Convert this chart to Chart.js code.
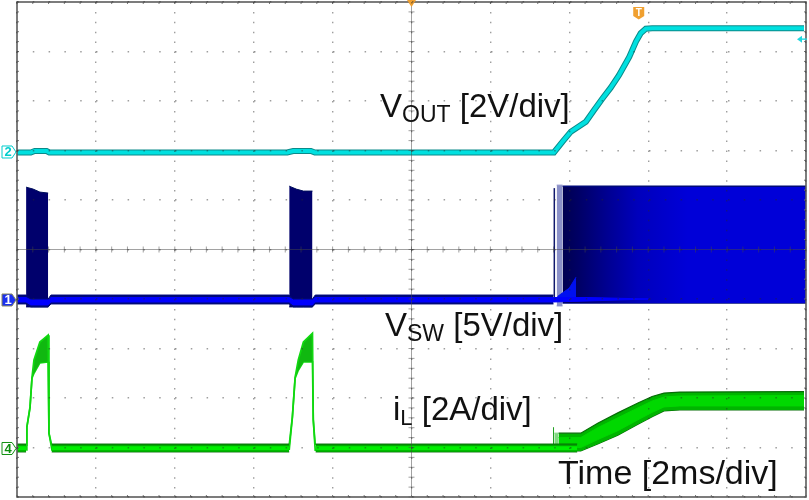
<!DOCTYPE html>
<html>
<head>
<meta charset="utf-8">
<style>
  html, body { margin: 0; padding: 0; background: #fff; }
  #wrap { width: 809px; height: 500px; }
  canvas { filter: blur(0.4px); }
</style>
<script src="https://cdn.jsdelivr.net/npm/chart.js@4"></script>
</head>
<body>
<div id="wrap"><canvas id="scope" width="809" height="500"></canvas></div>
<script>
// x in ms (2 ms/div, 10 div), y in screen divisions from the bottom
const voutT = [0, 0.35, 0.45, 0.75, 0.82, 6.85, 7.0, 7.45, 7.55, 13.61, 13.83, 14.04, 14.42, 14.63, 14.84, 15.05, 15.26, 15.52, 15.69, 15.81, 15.94, 16.1, 19.95];
const voutV = [6.96, 6.96, 6.99, 6.99, 6.96, 6.96, 6.99, 6.99, 6.96, 6.96, 7.18, 7.38, 7.58, 7.82, 8.05, 8.27, 8.52, 8.89, 9.2, 9.37, 9.46, 9.47, 9.47];

const swBaseT = [0, 0.23, 0.35, 0.79, 0.86, 6.9, 7.0, 7.49, 7.56, 13.6];
const swBaseHi = [4.08, 4.08, 4.0, 4.0, 4.08, 4.08, 4.0, 4.0, 4.08, 4.08];
const swBaseLo = [3.9, 3.9, 3.84, 3.84, 3.9, 3.9, 3.84, 3.84, 3.9, 3.9];
const swCoreT = [0, 0.23, 0.35, 0.79, 0.86, 6.9, 7.0, 7.49, 7.56, 13.6, 14.5, 16.0];
const swCoreHi = [4.03, 4.03, 3.98, 3.98, 4.03, 4.03, 3.98, 3.98, 4.03, 4.03, 4.03, 4.0];
const swCoreLo = [3.94, 3.94, 3.88, 3.88, 3.94, 3.94, 3.88, 3.88, 3.94, 3.94, 3.96, 4.0];

const burst1T = [0.23, 0.41, 0.58, 0.79];
const burst1Hi = [6.26, 6.22, 6.16, 6.14];
const burst1Lo = [3.84, 3.84, 3.84, 3.84];
const burst2T = [6.9, 7.08, 7.26, 7.49];
const burst2Hi = [6.28, 6.22, 6.18, 6.18];
const burst2Lo = [3.84, 3.84, 3.84, 3.84];

const swSpikeT = [13.62, 13.62];
const swSpikeV = [3.95, 6.24];
const swLightT = [13.68, 13.83];
const swLightHi = [6.3, 6.3];
const swLightLo = [3.86, 3.86];
const swMainT = [13.83, 20];
const swMainHi = [6.28, 6.28];
const swMainLo = [3.92, 3.92];
const wedgeT = [13.7, 14.0, 14.17];
const wedgeHi = [4.05, 4.22, 4.44];
const wedgeLo = [4.0, 4.0, 4.0];

const ilBaseT = [0, 0.23, 0.5, 0.88, 6.9, 7.2, 7.57, 14.2];
const ilBaseHi = [1.07, 1.07, null, 1.07, 1.07, null, 1.07, 1.07];
const ilBaseLo = [0.91, 0.91, null, 0.91, 0.91, null, 0.91, 0.91];
const ilCoreHi = [1.02, 1.02, null, 1.02, 1.02, null, 1.02, 1.02];
const ilCoreLo = [0.95, 0.95, null, 0.95, 0.95, null, 0.95, 0.95];

const pulse1T = [0.23, 0.25, 0.33, 0.38, 0.43, 0.58, 0.79, 0.81, 0.89];
const pulse1Hi = [1.05, 1.41, 1.82, 2.42, 2.77, 3.13, 3.27, 1.29, 1.01];
const pulse1Lo = [0.95, 1.41, 1.8, 2.4, 2.5, 2.71, 2.73, 1.29, 0.93];
const pulse2T = [6.9, 6.98, 7.05, 7.13, 7.26, 7.49, 7.51, 7.56];
const pulse2Hi = [1.05, 1.62, 2.42, 2.77, 3.13, 3.31, 1.56, 1.05];
const pulse2Lo = [0.95, 1.6, 2.4, 2.56, 2.73, 2.73, 1.56, 0.93];

const ilSpikeT = [13.6, 13.6];
const ilSpikeV = [0.95, 1.41];
const ilLightT = [13.62, 13.73];
const ilLightHi = [1.29, 1.29];
const ilLightLo = [0.98, 0.98];
const rampT = [13.73, 14.29, 14.72, 15.23, 15.74, 16.1, 16.4, 16.8, 19.95];
const rampHi = [1.29, 1.29, 1.49, 1.7, 1.9, 2.03, 2.1, 2.12, 2.13];
const rampLo = [0.93, 0.93, 1.07, 1.25, 1.47, 1.62, 1.74, 1.76, 1.76];
const rampCoreHi = [1.2, 1.2, 1.4, 1.6, 1.8, 1.94, 2.02, 2.04, 2.05];
const rampCoreLo = [1.0, 1.0, 1.16, 1.34, 1.56, 1.71, 1.82, 1.84, 1.84];

const xMajorStep = 2;
const yMajorStep = 1;

const pts = (xs, ys) => xs.map((x, i) => ({ x, y: ys[i] }));

function line(t, v, color, width) {
  return { data: pts(t, v), borderColor: color, borderWidth: width, fill: false, pointRadius: 0, showLine: true, spanGaps: false, tension: 0 };
}

// upper + lower pair filled between them
function band(t, hi, lo, color, edge, width) {
  return [
    { data: pts(t, hi), borderColor: edge, borderWidth: width, backgroundColor: color, fill: "+1", pointRadius: 0, showLine: true, spanGaps: false, tension: 0 },
    { data: pts(t, lo), borderColor: edge, borderWidth: width, fill: false, pointRadius: 0, showLine: true, spanGaps: false, tension: 0 },
  ];
}

function mainGradient(c) {
  const chart = c.chart;
  if (!chart.chartArea) return "#0000d0";
  const xs = chart.scales.x;
  const g = chart.ctx.createLinearGradient(xs.getPixelForValue(13.83), 0, xs.getPixelForValue(17), 0);
  g.addColorStop(0, "#000050");
  g.addColorStop(0.12, "#000064");
  g.addColorStop(0.35, "#000090");
  g.addColorStop(0.6, "#0000bc");
  g.addColorStop(1, "#0000d8");
  return g;
}

// first dataset ends up on top, chart.js draws them in reverse
const datasets = [
  line(voutT, voutV, "#00e0e0", 4),
  line(voutT, voutV, "#0a8a8a", 6),
  ...band(swCoreT, swCoreHi, swCoreLo, "#0000ff", "#0000ff", 1),
  ...band(wedgeT, wedgeHi, wedgeLo, "#0010f0", "#0010f0", 1),
  ...band(swBaseT, swBaseHi, swBaseLo, "#000a78", "#000a78", 1),
  ...band(burst1T, burst1Hi, burst1Lo, "#00006c", "#00105c", 1),
  ...band(burst2T, burst2Hi, burst2Lo, "#00006c", "#00105c", 1),
  line(swSpikeT, swSpikeV, "#10186c", 1.5),
  ...band(swMainT, swMainHi, swMainLo, mainGradient, "#000a78", 1.5),
  ...band(swLightT, swLightHi, swLightLo, "#8a90c8", "#8a90c8", 1),
  ...band(ilBaseT, ilCoreHi, ilCoreLo, "#00f000", "#00f000", 0.6),
  ...band(ilBaseT, ilBaseHi, ilBaseLo, "#00a800", "#0a6a0a", 1),
  ...band(pulse1T, pulse1Hi, pulse1Lo, "#10b810", "#10d810", 1.7),
  ...band(pulse2T, pulse2Hi, pulse2Lo, "#10b810", "#10d810", 1.7),
  ...band(rampT, rampCoreHi, rampCoreLo, "#00d800", "#00d800", 1),
  ...band(rampT, rampHi, rampLo, "#00b400", "#066c06", 1.2),
  line(ilSpikeT, ilSpikeV, "#20a020", 1),
  ...band(ilLightT, ilLightHi, ilLightLo, "#80d880", "#80d880", 1),
];

function marker(ctx, x, y, num, stroke, fill, textColor) {
  ctx.beginPath();
  ctx.moveTo(x - 14, y - 6);
  ctx.lineTo(x - 4, y - 6);
  ctx.lineTo(x, y);
  ctx.lineTo(x - 4, y + 6);
  ctx.lineTo(x - 14, y + 6);
  ctx.closePath();
  ctx.fillStyle = fill;
  ctx.fill();
  ctx.lineWidth = 1;
  ctx.strokeStyle = stroke;
  ctx.stroke();
  ctx.fillStyle = textColor;
  ctx.font = "bold 13px 'Liberation Sans'";
  ctx.textAlign = "center";
  ctx.textBaseline = "middle";
  ctx.fillText(num, x - 8, y + 0.5);
}

function label(ctx, x, y, main, sub, rest, size, subSize) {
  ctx.fillStyle = "#111";
  ctx.textAlign = "left";
  ctx.textBaseline = "alphabetic";
  ctx.font = size + "px 'Liberation Sans'";
  ctx.fillText(main, x, y);
  let cx = x + ctx.measureText(main).width;
  if (sub) {
    ctx.font = subSize + "px 'Liberation Sans'";
    ctx.fillText(sub, cx, y + 5);
    cx += ctx.measureText(sub).width;
  }
  ctx.font = size + "px 'Liberation Sans'";
  ctx.fillText(rest, cx, y);
}

const scopeOverlay = {
  id: "scopeOverlay",
  afterDatasetsDraw(chart) {
    const { ctx, chartArea: a, scales } = chart;
    const midX = scales.x.getPixelForValue(10);
    const midY = scales.y.getPixelForValue(5);
    ctx.save();

    // centre cross with minor ticks
    ctx.strokeStyle = "rgba(70,70,70,0.5)";
    ctx.lineWidth = 1;
    ctx.beginPath();
    ctx.moveTo(a.left, midY);
    ctx.lineTo(a.right, midY);
    for (let i = 0; i <= 50; i++) {
      const px = scales.x.getPixelForValue(i * 0.4);
      ctx.moveTo(px, midY - 3);
      ctx.lineTo(px, midY + 3);
      const py = scales.y.getPixelForValue(i * 0.2);
      ctx.moveTo(midX - 3, py);
      ctx.lineTo(midX + 3, py);
    }
    ctx.moveTo(midX, a.top);
    ctx.lineTo(midX, a.bottom);
    ctx.stroke();

    // frame ticks
    ctx.strokeStyle = "#777";
    ctx.beginPath();
    for (let i = 0; i <= 50; i++) {
      const px = scales.x.getPixelForValue(i * 0.4);
      ctx.moveTo(px, a.top);
      ctx.lineTo(px, a.top + 2);
      ctx.moveTo(px, a.bottom);
      ctx.lineTo(px, a.bottom - 2);
      const py = scales.y.getPixelForValue(i * 0.2);
      ctx.moveTo(a.left, py);
      ctx.lineTo(a.left + 2, py);
      ctx.moveTo(a.right, py);
      ctx.lineTo(a.right - 2, py);
    }
    ctx.stroke();

    // frame
    ctx.strokeStyle = "#5c5c5c";
    ctx.lineWidth = 1.6;
    ctx.strokeRect(a.left, a.top, a.right - a.left, a.bottom - a.top);

    // channel markers
    marker(ctx, a.left - 1, scales.y.getPixelForValue(6.97), "2", "#00cccc", "#ffffff", "#00cccc");
    marker(ctx, a.left - 1, scales.y.getPixelForValue(3.98), "1", "#8a8a60", "#1a30f0", "#ffffff");
    marker(ctx, a.left - 1, scales.y.getPixelForValue(0.98), "4", "#109010", "#ffffff", "#109010");

    // centre time marker
    ctx.fillStyle = "#f0a030";
    ctx.beginPath();
    ctx.moveTo(midX - 4.5, 0);
    ctx.lineTo(midX + 4.5, 0);
    ctx.lineTo(midX, 7);
    ctx.closePath();
    ctx.fill();

    // trigger position
    const tx = scales.x.getPixelForValue(15.76);
    ctx.beginPath();
    ctx.moveTo(tx - 5.5, 7);
    ctx.lineTo(tx + 5.5, 7);
    ctx.lineTo(tx + 5.5, 16);
    ctx.lineTo(tx, 19.5);
    ctx.lineTo(tx - 5.5, 16);
    ctx.closePath();
    ctx.fill();
    ctx.fillStyle = "#fff";
    ctx.font = "bold 10px 'Liberation Sans'";
    ctx.textAlign = "center";
    ctx.textBaseline = "middle";
    ctx.fillText("T", tx, 13);

    // trigger level arrow
    const ly = scales.y.getPixelForValue(9.25);
    ctx.strokeStyle = "#20d8e0";
    ctx.fillStyle = "#20d8e0";
    ctx.lineWidth = 1.4;
    ctx.beginPath();
    ctx.moveTo(a.right - 9, ly);
    ctx.lineTo(a.right - 4, ly - 3.5);
    ctx.lineTo(a.right - 4, ly + 3.5);
    ctx.closePath();
    ctx.fill();
    ctx.beginPath();
    ctx.moveTo(a.right - 5, ly);
    ctx.lineTo(a.right + 1, ly);
    ctx.stroke();

    // trace captions
    label(ctx, 380, 117, "V", "OUT", " [2V/div]", 33, 23);
    label(ctx, 385, 336, "V", "SW", " [5V/div]", 33, 23);
    label(ctx, 393, 420, "i", "L", " [2A/div]", 33, 22);
    label(ctx, 558, 484, "Time [2ms/div]", "", "", 34, 19);
    ctx.restore();
  },
};

new Chart(document.getElementById("scope").getContext("2d"), {
  type: "scatter",
  data: { datasets },
  plugins: [scopeOverlay],
  options: {
    responsive: false,
    animation: false,
    layout: { padding: { left: 17, top: 2, right: 3, bottom: 3 } },
    scales: {
      x: {
        type: "linear",
        min: 0,
        max: 20,
        ticks: { display: false, stepSize: xMajorStep, autoSkip: false },
        grid: { color: "rgba(40,40,40,0.45)", lineWidth: 1.4, drawTicks: false, z: 1 },
        border: { display: false, dash: [1.5, 8.4] },
      },
      y: {
        type: "linear",
        min: 0,
        max: 10,
        ticks: { display: false, stepSize: yMajorStep, autoSkip: false },
        grid: { color: "rgba(40,40,40,0.45)", lineWidth: 1.4, drawTicks: false, z: 1 },
        border: { display: false, dash: [1.5, 14.3] },
      },
    },
    plugins: {
      legend: { display: false },
      tooltip: { enabled: false },
      title: { display: false },
    },
  },
});
</script>
</body>
</html>
